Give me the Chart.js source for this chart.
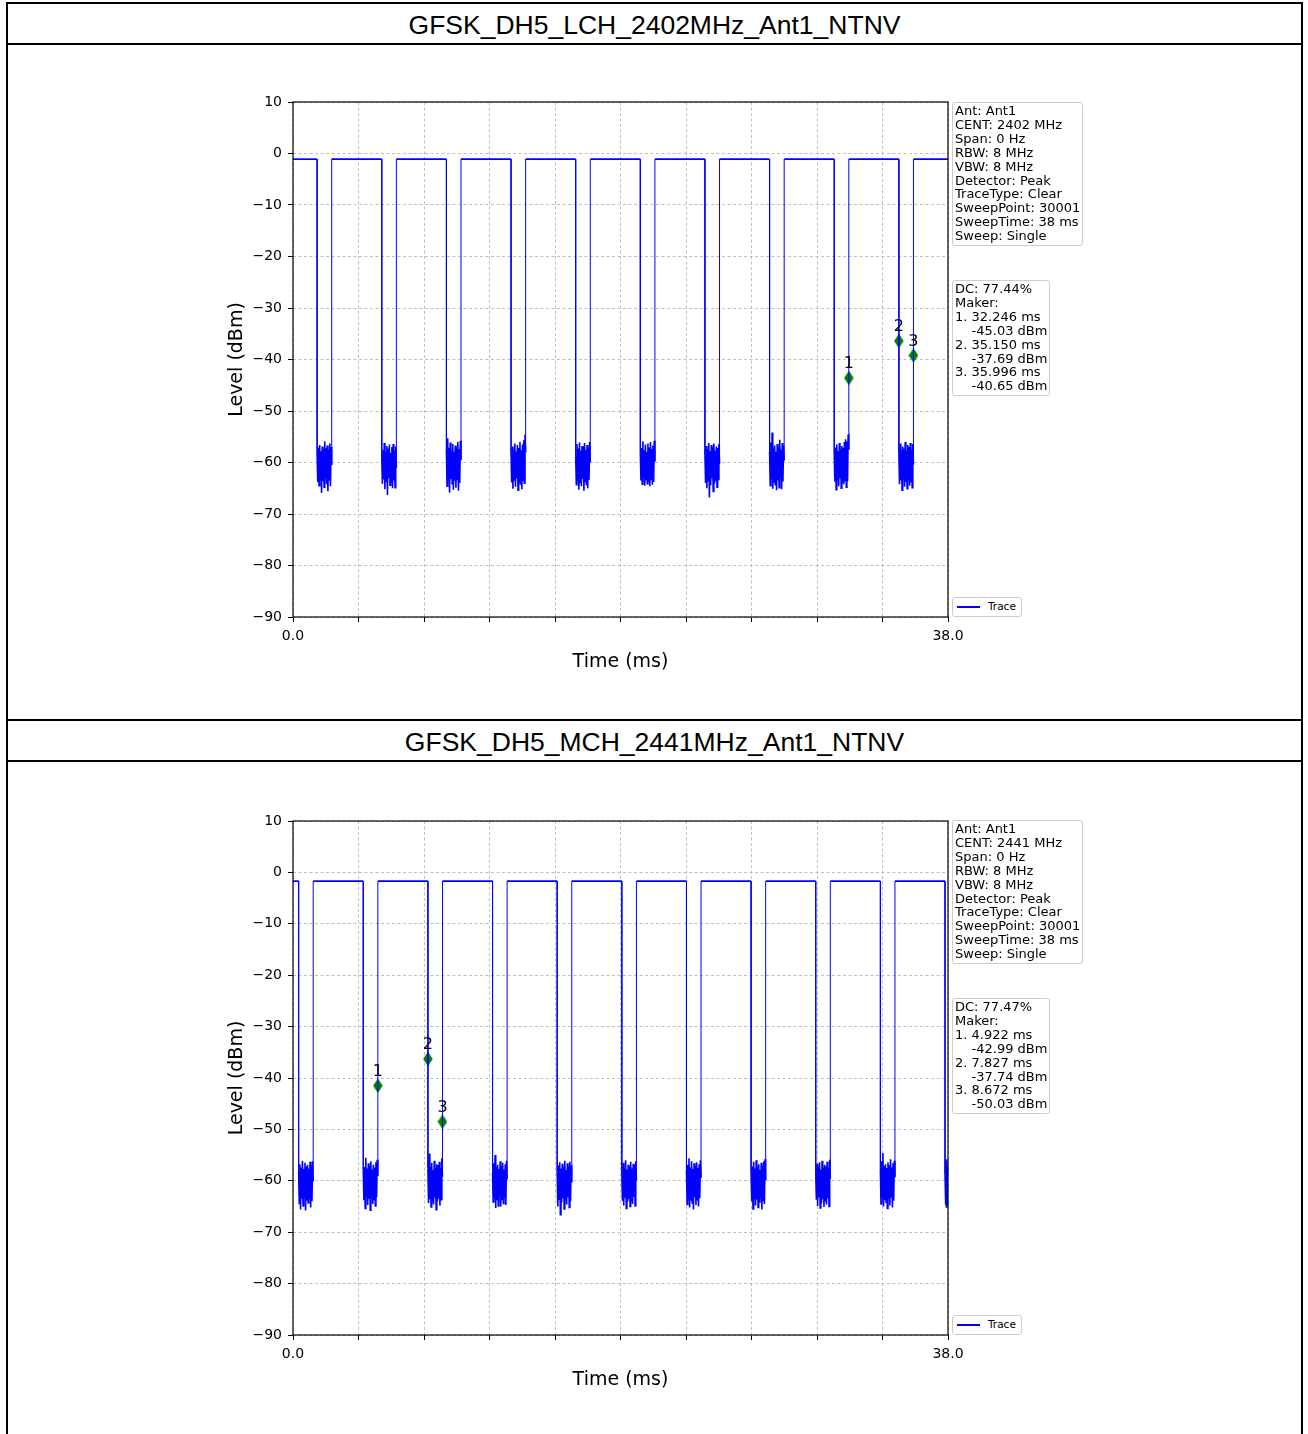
<!DOCTYPE html>
<html><head><meta charset="utf-8">
<script src="https://cdn.jsdelivr.net/npm/chart.js@4.4.0/dist/chart.umd.min.js"></script>
<style>
html,body{margin:0;padding:0;background:#fff;}
#page{position:relative;width:1308px;height:1434px;overflow:hidden;font-family:'DejaVu Sans',sans-serif;}
.hline{position:absolute;left:6px;width:1297px;height:2px;background:#000;}
.vline{position:absolute;top:2px;width:2px;height:1440px;background:#000;}
.title{position:absolute;left:8px;width:1293px;height:39px;text-align:center;font-family:'Liberation Sans',Arial,sans-serif;font-size:26.5px;line-height:39px;color:#000;}
canvas{position:absolute;}
.info{position:absolute;border:1px solid #cccccc;border-radius:3px;background:#fff;font-size:13px;line-height:13.9px;white-space:pre;padding:1px 2px 2px 2px;color:#000;}
.legend{position:absolute;border:1px solid #cccccc;border-radius:3px;background:#fff;width:68px;height:18px;font-size:10.5px;color:#000;}
.legend .ln{position:absolute;left:4px;top:8px;width:23px;height:1.5px;background:#0000ff;}
.legend .tx{position:absolute;left:35px;top:2px;line-height:13px;}
</style>
</head><body>
<div id="page">
  <div class="hline" style="top:2px"></div>
  <div class="hline" style="top:43px"></div>
  <div class="hline" style="top:719px"></div>
  <div class="hline" style="top:760px"></div>
  <div class="vline" style="left:6px"></div>
  <div class="vline" style="left:1301px"></div>
  <div class="title" style="top:6px">GFSK_DH5_LCH_2402MHz_Ant1_NTNV</div>
  <div class="title" style="top:723px">GFSK_DH5_MCH_2441MHz_Ant1_NTNV</div>
  <canvas id="c1" width="1293" height="674" style="left:8px;top:45px"></canvas>
  <canvas id="c2" width="1293" height="672" style="left:8px;top:762px"></canvas>
  <div class="info" style="left:952px;top:102px">Ant: Ant1
CENT: 2402 MHz
Span: 0 Hz
RBW: 8 MHz
VBW: 8 MHz
Detector: Peak
TraceType: Clear
SweepPoint: 30001
SweepTime: 38 ms
Sweep: Single</div>
  <div class="info" style="left:952px;top:280px">DC: 77.44%
Maker:
1. 32.246 ms
    -45.03 dBm
2. 35.150 ms
    -37.69 dBm
3. 35.996 ms
    -40.65 dBm</div>
  <div class="legend" style="left:952px;top:597px"><div class="ln"></div><div class="tx">Trace</div></div>
  <div class="info" style="left:952px;top:820px">Ant: Ant1
CENT: 2441 MHz
Span: 0 Hz
RBW: 8 MHz
VBW: 8 MHz
Detector: Peak
TraceType: Clear
SweepPoint: 30001
SweepTime: 38 ms
Sweep: Single</div>
  <div class="info" style="left:952px;top:998px">DC: 77.47%
Maker:
1. 4.922 ms
    -42.99 dBm
2. 7.827 ms
    -37.74 dBm
3. 8.672 ms
    -50.03 dBm</div>
  <div class="legend" style="left:952px;top:1315px"><div class="ln"></div><div class="tx">Trace</div></div>
</div>
<script>
// ---------- axis ticks ----------
const yTickValues = [-90,-80,-70,-60,-50,-40,-30,-20,-10,0,10];
const yTickLabels = ['\u221290','\u221280','\u221270','\u221260','\u221250','\u221240','\u221230','\u221220','\u221210','0','10'];
const xTickValues = [0,3.8,7.6,11.4,15.2,19,22.8,26.6,30.4,34.2,38];
const xTickLabels = ['0.0','','','','','','','','','','38.0'];
const sweepTime = 38;

// ---------- chart 1 (LCH 2402 MHz) ----------
const lchHigh = -1.1;
const lchFall = [1.40, 5.15, 8.90, 12.65, 16.40, 20.15, 23.90, 27.65, 31.40, 35.15];
const lchRise = [2.246, 5.996, 9.746, 13.496, 17.246, 20.996, 24.746, 28.496, 32.246, 35.996];
const lchNoise = [
 [-58.5,-63.8,-57.1,-64.5,-56.6,-63.2,-57.8,-65.9,-56.9,-63.6,-57.4,-64.8,-55.9,-63.1,-57.2,-64.2,-56.7,-65.6,-57.5,-63.4,-56.3,-64.6,-57.0,-60.5],
 [-59.0,-64.1,-57.6,-63.3,-56.2,-65.2,-57.9,-63.7,-56.8,-66.3,-57.3,-63.0,-56.5,-64.4,-58.1,-63.8,-57.0,-65.0,-56.4,-63.5,-57.7,-64.9,-56.9,-61.0],
 [-57.5,-64.6,-55.3,-63.4,-57.2,-65.8,-56.1,-63.2,-57.6,-64.1,-56.4,-65.3,-57.9,-63.6,-56.7,-64.9,-57.1,-63.3,-56.0,-65.5,-57.4,-64.0,-55.8,-59.5],
 [-58.2,-63.9,-56.9,-65.1,-57.5,-63.4,-56.3,-64.7,-57.8,-63.1,-56.6,-65.4,-57.2,-63.8,-56.0,-64.3,-57.6,-65.2,-56.5,-63.5,-55.7,-64.0,-54.6,-58.0],
 [-58.8,-64.3,-56.4,-63.6,-57.3,-65.3,-56.1,-63.9,-57.7,-64.6,-56.8,-63.2,-57.0,-65.5,-56.2,-63.7,-57.5,-64.4,-56.6,-65.0,-57.2,-63.4,-56.0,-60.0],
 [-58.0,-63.5,-57.2,-64.2,-55.9,-63.0,-57.6,-64.5,-56.5,-63.3,-57.9,-64.1,-56.3,-63.7,-57.1,-64.6,-56.0,-63.2,-57.4,-64.3,-56.7,-63.8,-55.8,-59.8],
 [-58.6,-64.0,-56.8,-65.0,-57.4,-63.5,-56.2,-66.8,-57.8,-64.4,-56.6,-63.1,-57.1,-65.6,-56.3,-64.1,-57.7,-63.6,-56.9,-64.8,-57.2,-63.3,-56.4,-60.2],
 [-57.8,-64.5,-56.1,-63.2,-54.2,-65.1,-57.3,-63.8,-56.7,-64.3,-57.9,-65.4,-56.4,-63.5,-57.0,-64.9,-55.6,-63.0,-57.5,-65.2,-56.2,-63.7,-56.8,-59.6],
 [-58.4,-63.7,-57.1,-65.3,-56.5,-63.4,-57.8,-64.6,-56.2,-63.1,-57.4,-65.0,-56.8,-63.9,-57.2,-64.2,-56.0,-63.5,-55.5,-64.8,-55.9,-63.6,-54.5,-57.5],
 [-58.1,-64.2,-56.3,-63.5,-57.6,-65.4,-56.9,-63.2,-57.3,-64.7,-56.0,-63.8,-57.8,-65.1,-56.6,-63.4,-57.0,-64.5,-56.2,-63.9,-57.5,-64.9,-56.4,-60.4]
];
const lchMarkerX = [32.246, 35.150, 35.996];
const lchMarkerY = [-43.6, -36.4, -39.2];
const lchMarkerLabels = ['1','2','3'];

// ---------- chart 2 (MCH 2441 MHz) ----------
const mchHigh = -1.7;
const mchFall = [0.327, 4.077, 7.827, 11.577, 15.327, 19.077, 22.827, 26.577, 30.327, 34.077, 37.827];
const mchRise = [1.172, 4.922, 8.672, 12.422, 16.172, 19.922, 23.672, 27.422, 31.172, 34.922];
const mchNoise = [
 [-58.3,-64.4,-56.8,-65.6,-57.4,-63.5,-56.1,-64.9,-57.7,-63.2,-56.5,-65.8,-57.2,-63.9,-56.9,-64.3,-57.6,-63.6,-56.3,-65.2,-57.0,-64.0,-56.2,-60.1],
 [-58.0,-63.8,-57.3,-65.4,-55.5,-63.1,-57.6,-64.7,-56.6,-63.5,-57.1,-65.7,-56.2,-63.3,-57.8,-64.5,-56.9,-63.7,-57.4,-64.9,-56.4,-63.2,-55.9,-59.0],
 [-57.6,-64.3,-54.7,-63.6,-57.2,-65.1,-56.5,-63.9,-57.9,-64.6,-56.1,-63.3,-57.4,-65.6,-56.8,-64.0,-57.0,-63.5,-56.3,-64.8,-57.5,-63.7,-55.6,-59.2],
 [-58.5,-64.1,-56.6,-63.4,-55.0,-65.3,-57.3,-63.8,-56.9,-64.9,-57.7,-63.1,-56.2,-65.0,-57.1,-63.6,-56.5,-64.4,-57.8,-63.3,-56.8,-64.7,-56.1,-59.7],
 [-58.2,-65.0,-57.0,-63.6,-56.4,-66.6,-57.6,-64.2,-56.7,-63.4,-57.3,-65.5,-56.1,-63.9,-57.9,-64.6,-56.6,-63.2,-57.2,-65.2,-56.3,-64.0,-57.0,-60.3],
 [-58.7,-63.9,-56.5,-64.8,-57.5,-63.3,-56.0,-65.4,-57.8,-64.1,-56.9,-63.6,-57.2,-65.0,-56.3,-63.8,-57.6,-64.5,-56.7,-63.1,-57.0,-64.9,-56.2,-60.0],
 [-58.1,-64.6,-56.9,-63.5,-55.6,-65.2,-57.4,-63.9,-56.2,-64.3,-57.7,-65.6,-56.6,-63.2,-57.1,-64.7,-56.4,-63.7,-57.5,-65.0,-56.8,-63.4,-56.0,-59.4],
 [-58.4,-64.0,-57.2,-65.5,-56.3,-63.4,-57.6,-64.8,-56.0,-63.7,-57.3,-65.2,-56.8,-64.1,-57.9,-63.3,-56.5,-65.6,-57.1,-63.8,-56.2,-64.5,-55.8,-59.9],
 [-58.6,-63.7,-56.7,-64.9,-57.3,-63.2,-56.4,-65.3,-57.8,-64.4,-56.1,-63.6,-57.5,-65.1,-56.9,-63.9,-57.2,-64.6,-56.3,-63.4,-57.6,-65.0,-55.9,-59.6],
 [-57.9,-64.5,-56.2,-63.3,-54.6,-65.0,-57.1,-63.8,-56.8,-64.2,-57.5,-65.4,-56.4,-63.5,-57.0,-64.8,-55.8,-63.1,-57.4,-65.2,-56.6,-63.9,-56.1,-59.3],
 [-58.5,-64.6,-56.2,-65.1,-55.8,-63.6,-57.1,-64.9]
];
const mchMarkerX = [4.922, 7.827, 8.672];
const mchMarkerY = [-41.5, -36.3, -48.5];
const mchMarkerLabels = ['1','2','3'];

// ---------- build trace points from the read edges & noise ----------
function buildTrace(high, falls, rises, noise, tEnd) {
  const pts = [{x: 0, y: high}];
  for (let i = 0; i < falls.length; i++) {
    pts.push({x: falls[i], y: high});
    const end = i < rises.length ? rises[i] : tEnd;
    const blk = noise[i];
    for (let j = 0; j < blk.length; j++) {
      pts.push({x: falls[i] + (end - falls[i]) * j / (blk.length - 1), y: blk[j]});
    }
    if (i < rises.length) pts.push({x: rises[i], y: high});
  }
  if (rises.length >= falls.length) pts.push({x: tEnd, y: high});
  return pts;
}

// thin diamond marker (matplotlib 'd')
function diamond() {
  const c = document.createElement('canvas');
  c.width = 10; c.height = 15;
  const g = c.getContext('2d');
  g.fillStyle = '#008000';
  g.beginPath(); g.moveTo(5, 0.3); g.lineTo(9.8, 7.5); g.lineTo(5, 14.7); g.lineTo(0.2, 7.5); g.closePath(); g.fill();
  return c;
}
const diamondImg = diamond();

const framePlugin = {
  id: 'frameAndLabels',
  afterDatasetsDraw(chart) {
    const ctx = chart.ctx;
    const ds = chart.data.datasets[1];
    const meta = chart.getDatasetMeta(1);
    ctx.save();
    ctx.font = '16px "DejaVu Sans"';
    ctx.fillStyle = '#000';
    ctx.textAlign = 'center';
    ctx.textBaseline = 'middle';
    meta.data.forEach((el, i) => ctx.fillText(ds.markerLabels[i], el.x, el.y - 14));
    ctx.restore();
  },
  afterDraw(chart) {
    const a = chart.chartArea, ctx = chart.ctx;
    ctx.save();
    ctx.strokeStyle = '#000';
    ctx.lineWidth = 1.2;
    ctx.strokeRect(a.left, a.top, a.right - a.left, a.bottom - a.top);
    ctx.restore();
  }
};

// vertical edges drawn thin; flat top and noise drawn a little heavier (dense 30001-pt sweep look)
function segWidth(ctx) {
  const y0 = ctx.p0.parsed.y, y1 = ctx.p1.parsed.y;
  if (y0 > -20 && y1 > -20) return 1.7;
  if (y0 < -45 && y1 < -45) return 1.6;
  return 1;
}

function makeChart(id, trace, mx, my, mlabels, padTop, padBottom) {
  const markers = mx.map((x, i) => ({x: x, y: my[i]}));
  return new Chart(document.getElementById(id), {
    type: 'line',
    data: {
      datasets: [
        {label: 'Trace', data: trace, borderColor: '#0000ff', borderWidth: 1, pointRadius: 0, tension: 0, fill: false,
         segment: {borderWidth: segWidth}},
        {label: 'Markers', data: markers, showLine: false, pointStyle: diamondImg, pointRadius: 7, markerLabels: mlabels}
      ]
    },
    options: {
      responsive: false,
      animation: false,
      events: [],
      layout: {padding: {left: 214, right: 353, top: padTop, bottom: padBottom}},
      plugins: {legend: {display: false}, tooltip: {enabled: false}},
      scales: {
        x: {
          type: 'linear', min: 0, max: sweepTime,
          afterBuildTicks: s => { s.ticks = xTickValues.map(v => ({value: v})); },
          afterFit: s => { s.height = 60; },
          ticks: {autoSkip: false, maxRotation: 0, padding: 6, color: '#000', font: {size: 14, family: 'DejaVu Sans'},
                  callback: (v, i) => xTickLabels[i]},
          grid: {color: '#b0b0b0', lineWidth: 0.8, tickColor: '#000', tickLength: 5, tickWidth: 1, tickBorderDash: []},
          border: {display: false, dash: [3, 2.5]},
          title: {display: true, text: 'Time (ms)', color: '#000', font: {size: 19, family: 'DejaVu Sans'}}
        },
        y: {
          type: 'linear', min: -90, max: 10,
          afterBuildTicks: s => { s.ticks = yTickValues.map(v => ({value: v})); },
          afterFit: s => { s.width = 71; },
          ticks: {autoSkip: false, padding: 6, color: '#000', font: {size: 14, family: 'DejaVu Sans'},
                  callback: (v, i) => yTickLabels[i]},
          grid: {color: '#b0b0b0', lineWidth: 0.8, tickColor: '#000', tickLength: 5, tickWidth: 1, tickBorderDash: []},
          border: {display: false, dash: [3, 2.5]},
          title: {display: true, text: 'Level (dBm)', color: '#000', font: {size: 19, family: 'DejaVu Sans'}}
        }
      }
    },
    plugins: [framePlugin]
  });
}

makeChart('c1', buildTrace(lchHigh, lchFall, lchRise, lchNoise, sweepTime), lchMarkerX, lchMarkerY, lchMarkerLabels, 57, 42);
makeChart('c2', buildTrace(mchHigh, mchFall, mchRise, mchNoise, sweepTime), mchMarkerX, mchMarkerY, mchMarkerLabels, 59, 39);
</script>
</body></html>
